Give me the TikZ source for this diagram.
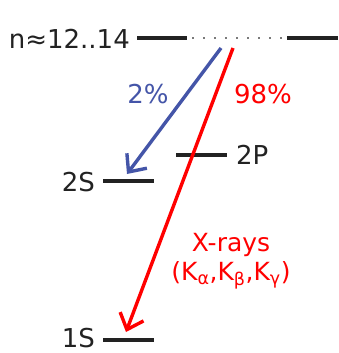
\documentclass[tikz,border=0pt]{standalone}
\usepackage{fontspec}
\setmainfont{DejaVu Sans}
\usetikzlibrary{arrows.meta,positioning}
\definecolor{DecayBlue}{HTML}{4455A8}
\definecolor{DecayRed}{HTML}{FF0000}
\definecolor{LevelGray}{HTML}{222222}

\begin{document}
\begin{tikzpicture}[x=1pt,y=-1pt,every node/.style={font=\fontsize{26}{30}\selectfont,inner sep=0pt},
    level/.style={LevelGray,line width=3.6pt},
    decay/.style={line width=3.4pt,-{Straight Barb[length=14pt,width=25pt,line width=3.4pt]}}]
    \useasboundingbox (0,0) rectangle (338,353);
    % energy levels
    \coordinate (nL) at (137,38); \coordinate (nM) at (187,38);
    \coordinate (nR) at (287,38); \coordinate (nE) at (338,38);
    \draw[level] (nL) -- (nM);
    \draw[level] (nR) -- (nE);
    \draw[LevelGray!60,line width=1.6pt,dash pattern=on 1.6pt off 9.4pt] (nM) ++(5,0) -- (nR);
    \node[anchor=east,LevelGray] (nlab) at (130,39) {n≈12..14};
    \coordinate (sL) at (103,181); \coordinate (sR) at (154,181);
    \draw[level] (sL) -- (sR);
    \node[anchor=east,LevelGray] (slab) at ([xshift=-8pt,yshift=-1pt]sL) {2S};
    \coordinate (pL) at (176,155); \coordinate (pR) at (227,155);
    \draw[level] (pL) -- (pR);
    \node[anchor=west,LevelGray] (plab) at ([xshift=9pt]pR) {2P};
    \coordinate (gL) at (103,340); \coordinate (gR) at (154,340);
    \draw[level] (gL) -- (gR);
    \node[anchor=east,LevelGray] (glab) at ([xshift=-8pt,yshift=1.5pt]gL) {1S};
    % transitions
    \coordinate (bStart) at (221,48); \coordinate (bEnd) at (127,174);
    \coordinate (rStart) at (233,48); \coordinate (rEnd) at (126,332);
    \draw[decay,DecayBlue] (bStart) -- (bEnd);
    \draw[decay,DecayRed] (rStart) -- (rEnd);
    \node[DecayBlue] (blab) at (148,94) {2\%};
    \node[DecayRed] (rlab) at (263,94) {98\%};
    \node[DecayRed,font=\fontsize{25}{29}\selectfont,align=center] (xlab) at (231,261) {X-rays\\(K\textsubscript{α},K\textsubscript{β},K\textsubscript{γ})};
  \end{tikzpicture}
\end{document}
